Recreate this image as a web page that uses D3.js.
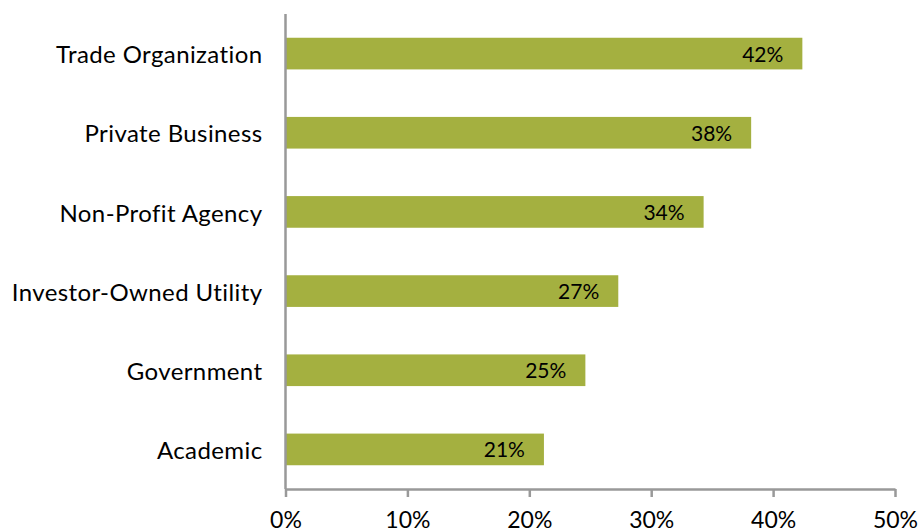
<!DOCTYPE html>
<html>
<head>
<meta charset="utf-8">
<script src="https://cdn.jsdelivr.net/npm/d3@7"></script>
<style>
  html, body { margin: 0; padding: 0; background: #fff; }
  svg { display: block; }
  text { font-family: "Lato", "Open Sans", sans-serif; fill: #000; }
</style>
</head>
<body>
<svg id="chart" width="921" height="532"></svg>
<script>
// Share of respondents by organization type
const categories = ["Trade Organization", "Private Business", "Non-Profit Agency",
                    "Investor-Owned Utility", "Government", "Academic"];
const values = [0.424, 0.382, 0.343, 0.273, 0.246, 0.212];
const tickValues = [0, 0.1, 0.2, 0.3, 0.4, 0.5];

const svg = d3.select("#chart");
const plotLeft = 285.5, plotRight = 895, plotTop = 14, plotBottom = 489;

const x = d3.scaleLinear().domain([0, 0.5]).range([plotLeft, plotRight]);
const y = d3.scaleBand().domain(categories).range([plotTop, plotBottom])
  .paddingInner(0.6).paddingOuter(0.3);
const pct = d3.format(".0%");

// bars
svg.selectAll("rect.bar").data(categories).join("rect")
  .attr("class", "bar")
  .attr("x", x(0))
  .attr("y", d => y(d))
  .attr("width", (d, i) => x(values[i]) - x(0))
  .attr("height", y.bandwidth())
  .attr("fill", "#a4b040");

// value labels inside bar ends
svg.selectAll("text.val").data(categories).join("text")
  .attr("class", "val")
  .attr("x", (d, i) => x(values[i]) - 19)
  .attr("y", d => y(d) + y.bandwidth() / 2)
  .attr("dy", "0.38em")
  .attr("text-anchor", "end")
  .style("font-size", "21px")
  .text((d, i) => pct(values[i]));

// x axis
const xAxis = svg.append("g")
  .attr("transform", `translate(0,${plotBottom})`)
  .call(d3.axisBottom(x).tickValues(tickValues).tickFormat(pct).tickSize(8).tickSizeOuter(0));
xAxis.select(".domain").attr("stroke", "#999").attr("stroke-width", 2.5);
xAxis.selectAll(".tick line").attr("stroke", "#999").attr("stroke-width", 2.5);
xAxis.selectAll(".tick text").attr("y", 23).attr("dy", "0.71em")
  .style("font-size", "23px").attr("fill", "#000");

// y axis
const yAxis = svg.append("g")
  .attr("transform", `translate(${plotLeft},0)`)
  .call(d3.axisLeft(y).tickSize(0).tickPadding(23));
yAxis.select(".domain").attr("stroke", "#999").attr("stroke-width", 2.5)
  .attr("d", `M0,${plotTop}V${plotBottom}`);
yAxis.selectAll(".tick text").attr("dy", "0.4em")
  .style("font-size", "24px").style("letter-spacing", "0.4px")
  .attr("fill", "#000");
</script>
</body>
</html>
